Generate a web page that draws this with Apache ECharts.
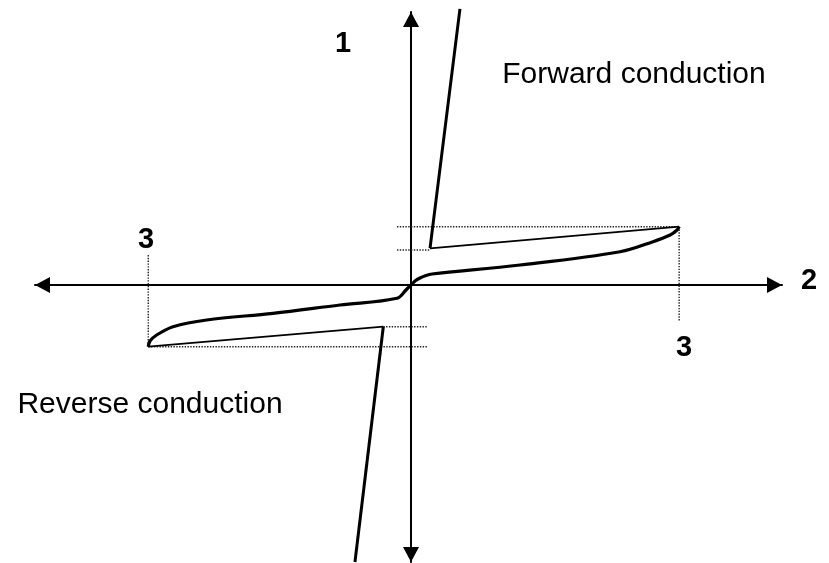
<!DOCTYPE html>
<html>
<head>
<meta charset="utf-8">
<script src="https://cdn.jsdelivr.net/npm/echarts@6/dist/echarts.min.js"></script>
<style>
  html, body { margin: 0; padding: 0; background: #fff; }
  #chart { width: 829px; height: 563px; }
</style>
</head>
<body>
<div id="chart"></div>
<script>
// I-V characteristic sketch, x = voltage (3 = reference point), y = current
const curve = [
  [-2.93, -1.064], [-2.911, -0.966], [-2.836, -0.862], [-2.654, -0.719], [-2.278, -0.603],
  [-1.539, -0.488], [-0.792, -0.345], [-0.156, -0.229], [-0.056, -0.086], [0, 0],
  [0.045, 0.069], [0.1, 0.12], [0.167, 0.164], [0.234, 0.19], [1.216, 0.345],
  [2.331, 0.574], [2.699, 0.747], [2.889, 0.862], [2.967, 0.948], [2.99, 1.005]
];
const fwdSteep = [[0.546, 4.76], [0.212, 0.633]];
const fwdThin = [[0.212, 0.633], [2.99, 1.005]];
const revThin = [[-2.93, -1.064], [-0.309, -0.719]];
const revSteep = [[-0.309, -0.719], [-0.625, -4.776]];

const guides = [
  [[-0.156, 1.005], [2.99, 1.005]],
  [[-0.156, 0.603], [0.212, 0.603]],
  [[2.99, 1.005], [2.99, -0.64]],
  [[-2.93, -1.064], [0.19, -1.064]],
  [[-0.309, -0.719], [0.19, -0.719]],
  [[-2.93, 0.517], [-2.93, -1.064]]
];

const labels = [
  { text: '1', x: 343, y: 44, bold: true },
  { text: '2', x: 809, y: 281, bold: true },
  { text: '3', x: 146, y: 240, bold: true },
  { text: '3', x: 684, y: 348, bold: true },
  { text: 'Forward conduction', x: 634, y: 75, bold: false },
  { text: 'Reverse conduction', x: 150, y: 405, bold: false }
];

const chart = echarts.init(document.getElementById('chart'));

const line = (data, width, type) => ({
  type: 'line',
  data: data,
  symbol: 'none',
  clip: false,
  silent: true,
  lineStyle: { color: type ? '#222' : '#000', width: width, type: type || 'solid' },
  z: type ? 1 : 3
});

const series = [];
guides.forEach(g => series.push(line(g, 1.4, [1.4, 1.4])));
series.push(line(fwdThin, 1.8));
series.push(line(revThin, 1.8));
series.push(line(fwdSteep, 3));
series.push(line(revSteep, 3));
series.push(Object.assign(line(curve, 3.2), { smooth: 0.35 }));

const axisLine = {
  onZero: true,
  symbol: ['triangle', 'triangle'],
  symbolSize: [16, 15],
  symbolOffset: [7.5, -7.5],
  lineStyle: { color: '#000', width: 2 }
};

chart.setOption({
  animation: false,
  backgroundColor: '#fff',
  grid: { left: 35, right: 47, top: 12, bottom: 1 },
  xAxis: {
    type: 'value', min: -4.193, max: 4.137,
    axisLine: axisLine, axisTick: { show: false }, axisLabel: { show: false },
    splitLine: { show: false }
  },
  yAxis: {
    type: 'value', min: -4.776, max: 4.707,
    axisLine: axisLine, axisTick: { show: false }, axisLabel: { show: false },
    splitLine: { show: false }
  },
  graphic: labels.map(l => ({
    type: 'text',
    x: l.x, y: l.y,
    style: {
      text: l.text,
      fill: '#000',
      font: (l.bold ? 'bold 29px' : '30px') + ' "Liberation Sans", Arial, sans-serif',
      align: 'center',
      verticalAlign: 'middle'
    }
  })),
  series: series
});
</script>
</body>
</html>
